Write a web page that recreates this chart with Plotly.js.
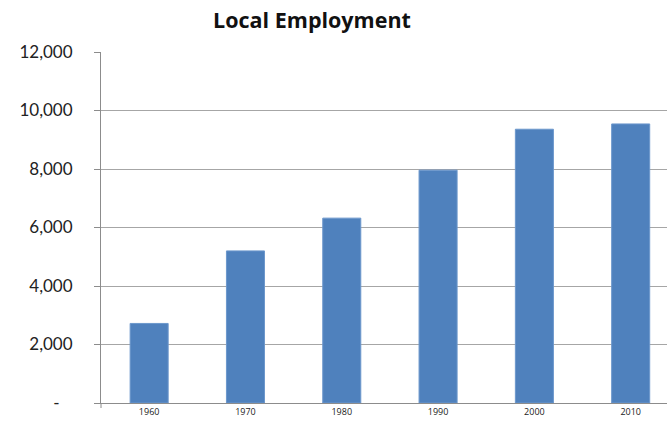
<!DOCTYPE html>
<html>
<head>
<meta charset="utf-8">
<script src="https://cdn.plot.ly/plotly-3.0.1.min.js"></script>
<style>html,body{margin:0;padding:0;background:#fff;}#chart{width:667px;height:424px;}</style>
</head>
<body>
<div id="chart"></div>
<script>
const years = ["1960", "1970", "1980", "1990", "2000", "2010"];
const employment = [2720, 5200, 6320, 7960, 9360, 9540];
const yTickVals = [0, 2000, 4000, 6000, 8000, 10000, 12000];
const yTickText = ["-\u00a0\u00a0\u00a0", "2,000", "4,000", "6,000", "8,000", "10,000", "12,000"];
const chartTitle = "Local Employment";

const trace = {
  type: "bar",
  x: years,
  y: employment,
  marker: { color: "#4F81BD", line: { color: "#6C97CC", width: 1 } },
  hoverinfo: "x+y"
};

const layout = {
  width: 667,
  height: 424,
  margin: { l: 101, r: 0, t: 52, b: 21, pad: 0 },
  paper_bgcolor: "#fff",
  plot_bgcolor: "#fff",
  showlegend: false,
  bargap: 0.605,
  font: { family: "Lato, 'Open Sans', sans-serif", color: "#222" },
  title: {
    text: "<b>" + chartTitle + "</b>",
    font: { size: 21.5, color: "#111", family: "'Open Sans', sans-serif" },
    x: 312 / 667, xanchor: "center", xref: "container",
    y: 1 - 20 / 424, yanchor: "middle", yref: "container"
  },
  xaxis: {
    type: "category",
    range: [-0.5, 5.377],
    showline: true, linecolor: "#8c8c8c", linewidth: 1,
    ticks: "",
    tickfont: { size: 9, color: "#222", family: "'Open Sans', sans-serif" },
    showgrid: false, zeroline: false, fixedrange: true
  },
  yaxis: {
    range: [0, 12000],
    tickvals: yTickVals, ticktext: yTickText,
    showline: true, linecolor: "#8c8c8c", linewidth: 1,
    ticks: "outside", ticklen: 6, tickcolor: "#8c8c8c",
    ticklabelstandoff: 18,
    showgrid: true, gridcolor: "#a6a6a6", gridwidth: 1,
    zeroline: false,
    tickfont: { size: 17, color: "#222", family: "Lato, sans-serif" },
    fixedrange: true
  },
  shapes: [{
    type: "line", xref: "paper", yref: "paper",
    x0: 0, x1: 0, y0: 0, y1: -5 / 351,
    line: { color: "#8c8c8c", width: 1 }
  }]
};

Plotly.newPlot("chart", [trace], layout, { displayModeBar: false, staticPlot: true });
</script>
</body>
</html>
